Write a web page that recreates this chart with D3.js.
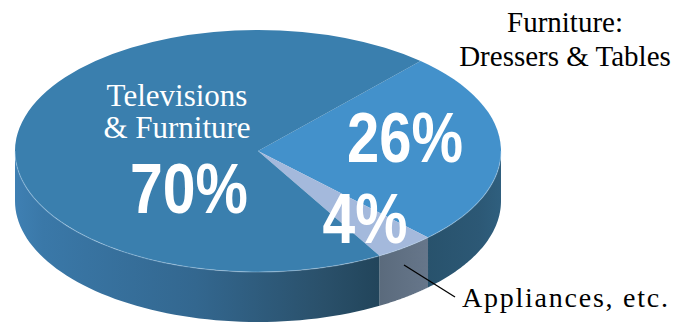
<!DOCTYPE html>
<html><head><meta charset="utf-8">
<script src="https://cdn.jsdelivr.net/npm/d3@7"></script>
<style>html,body{margin:0;padding:0;background:#fff;}svg{display:block;}</style>
</head><body>
<script>
// ---- data ----
const categories = ["Furniture: Dressers & Tables", "Appliances, etc.", "Televisions & Furniture"];
const values = [26, 4, 70];
const pctLabels = ["26%", "4%", "70%"];
const topColors = ["#4391cb", "#a4b9dc", "#3a7fae"];
const sideColors = ["dressersSide", "applSide", "tvSide"];

(function () {
const W = 688, H = 324;
const cx = 258, cy = 151, rx = 243, ry = 121, depth = 50;
const deg = Math.PI / 180;

const svg = d3.select("body").append("svg").attr("width", W).attr("height", H);
const defs = svg.append("defs");

function grad(id, stops, x1, x2) {
  const g = defs.append("linearGradient").attr("id", id)
    .attr("gradientUnits", "userSpaceOnUse").attr("x1", x1).attr("x2", x2).attr("y1", 0).attr("y2", 0);
  stops.forEach(s => g.append("stop").attr("offset", s[0]).attr("stop-color", s[1]));
}
grad("tvSide", [[0, "#3f80b3"], [0.08, "#3a78a8"], [0.5, "#33678f"], [0.85, "#2a506a"], [1, "#22455b"]], 14, 378);
grad("applSide", [[0, "#5a6a7c"], [1, "#66768a"]], 378, 427);
grad("dressersSide", [[0, "#28526c"], [0.7, "#2c5875"], [1, "#2f5f7e"]], 427, 501);

const pie = d3.pie().sort(null).value(d => d)
  .startAngle(42 * deg).endAngle(42 * deg + 2 * Math.PI);
const arcs = pie(values);

const px = a => cx + rx * Math.sin(a);
const py = (a, dy) => cy - ry * Math.cos(a) + dy;

// side walls (front half: angles between 90 and 270 deg)
const line = d3.line();
arcs.forEach((d, i) => {
  const lo = Math.max(d.startAngle, 90 * deg), hi = Math.min(d.endAngle, 270 * deg);
  if (hi <= lo) return;
  const n = 60, pts = [];
  for (let k = 0; k <= n; k++) { const a = lo + (hi - lo) * k / n; pts.push([px(a), py(a, 0)]); }
  for (let k = n; k >= 0; k--) { const a = lo + (hi - lo) * k / n; pts.push([px(a), py(a, depth)]); }
  svg.append("path").attr("d", line(pts) + "Z").attr("fill", `url(#${sideColors[i]})`);
});

// top face
const arc = d3.arc().innerRadius(0).outerRadius(rx);
const topFace = svg.append("g").attr("transform", `translate(${cx},${cy}) scale(1,${ry / rx})`);
topFace.selectAll("path").data(arcs).join("path")
  .attr("d", arc).attr("fill", (d, i) => topColors[i]);

// rim highlight along front edge
{
  const pts = [];
  for (let k = 0; k <= 120; k++) { const a = (90 + 180 * k / 120) * deg; pts.push([px(a), py(a, 0)]); }
  svg.append("path").attr("d", line(pts)).attr("fill", "none")
    .attr("stroke", "rgba(190,220,245,0.35)").attr("stroke-width", 1.2);
}

const SERIF = '"Liberation Serif", "Times New Roman"';
const SANS = '"Liberation Sans", Arial';
function txt(fam, bold, x, y, size, fill, len, adj, s) {
  const t = svg.append("text").attr("x", x).attr("y", y).attr("text-anchor", "middle")
    .style("font-family", fam).style("font-size", size + "px").style("font-weight", bold ? "bold" : "normal")
    .attr("fill", fill).text(s);
  if (len) t.attr("textLength", len).attr("lengthAdjust", adj);
}

// labels on the pie
txt(SERIF, false, 177, 106, 31, "#fff", null, null, "Televisions");
txt(SERIF, false, 177, 138, 31, "#fff", null, null, "& Furniture");

const pctPos = [[405, 162, 116], [365, 243, 85], [189, 213, 118]];
pctLabels.forEach((t, i) => txt(SANS, true, pctPos[i][0], pctPos[i][1], 70, "#fff", pctPos[i][2], "spacingAndGlyphs", t));

// outside labels
txt(SERIF, false, 565, 32, 29, "#000", null, null, "Furniture:");
txt(SERIF, false, 565, 66, 29, "#000", null, null, "Dressers & Tables");

svg.append("line").attr("x1", 404).attr("y1", 265).attr("x2", 455).attr("y2", 297)
  .attr("stroke", "#000").attr("stroke-width", 1.3);
txt(SERIF, false, 565, 307, 28, "#000", 206, "spacing", "Appliances, etc.");
})();
</script>
</body></html>
